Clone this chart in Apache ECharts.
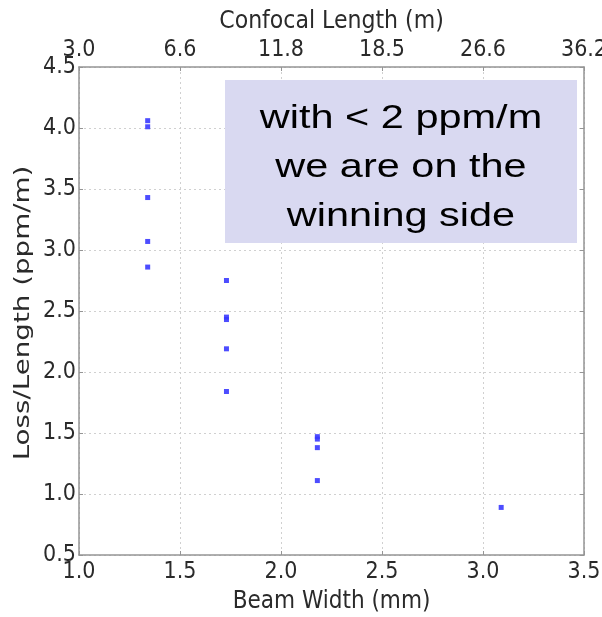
<!DOCTYPE html>
<html>
<head>
<meta charset="utf-8">
<script src="https://cdn.jsdelivr.net/npm/echarts@6/dist/echarts.min.js"></script>
<style>
  html, body { margin: 0; padding: 0; background: #fff; }
  #chart { width: 602px; height: 617px; }
</style>
</head>
<body>
<div id="chart"></div>
<script>
// Measured loss per unit length for several beam widths
const beamWidth = [1.34, 1.34, 1.34, 1.34, 1.34, 1.73, 1.73, 1.73, 1.73, 1.73, 2.18, 2.18, 2.18, 2.18, 3.09];
const lossPerLength = [4.06, 4.01, 3.43, 3.07, 2.86, 2.75, 2.45, 2.43, 2.19, 1.84, 1.47, 1.45, 1.38, 1.11, 0.89];

// Secondary (top) axis: confocal length at each beam-width tick
const beamTicks = [1.0, 1.5, 2.0, 2.5, 3.0, 3.5];
const confocalLabels = ['3.0', '6.6', '11.8', '18.5', '26.6', '36.2'];

const yTitle = 'Loss/Length (ppm/m)';
const annotationLines = ['with < 2 ppm/m', 'we are on the', 'winning side'];

const points = beamWidth.map((w, i) => [w, lossPerLength[i]]);

const axisFont = 'DejaVu Sans Condensed';
const textColor = '#2a2a2a';
const frameColor = '#959595';
const gridColor = '#d0d0d0';

function topLabel(v) {
  const idx = beamTicks.findIndex(t => Math.abs(t - v) < 1e-6);
  return idx >= 0 ? confocalLabels[idx] : '';
}

const chart = echarts.init(document.getElementById('chart'), null, { renderer: 'canvas' });

const frameLine = { show: true, onZero: false, lineStyle: { color: frameColor, width: 1.5 } };
const innerTicks = { show: true, inside: true, length: 4, lineStyle: { color: frameColor } };
const dotted = { show: true, lineStyle: { color: gridColor, type: [2, 3], width: 1 } };

chart.setOption({
  animation: false,
  backgroundColor: '#ffffff',
  grid: { left: 79, right: 18, top: 67, bottom: 62, containLabel: false, outerBoundsMode: 'none' },
  xAxis: [
    {
      type: 'value', position: 'bottom',
      min: 1.0, max: 3.5, interval: 0.5,
      name: 'Beam Width (mm)', nameLocation: 'middle', nameGap: 35,
      nameTextStyle: { fontFamily: axisFont, fontSize: 24, color: textColor },
      axisLine: frameLine,
      axisTick: innerTicks,
      axisLabel: {
        show: true, margin: 6, showMinLabel: true, showMaxLabel: true,
        fontFamily: axisFont, fontSize: 23, color: textColor,
        formatter: v => v.toFixed(1)
      },
      splitLine: dotted
    },
    {
      type: 'value', position: 'top',
      min: 1.0, max: 3.5, interval: 0.5,
      name: 'Confocal Length (m)', nameLocation: 'middle', nameGap: 33,
      nameTextStyle: { fontFamily: axisFont, fontSize: 24.5, color: textColor },
      axisLine: frameLine,
      axisTick: innerTicks,
      axisLabel: {
        show: true, margin: 5, showMinLabel: true, showMaxLabel: true,
        fontFamily: axisFont, fontSize: 23, color: textColor,
        formatter: topLabel
      },
      splitLine: { show: false }
    }
  ],
  yAxis: [
    {
      type: 'value', position: 'left',
      min: 0.5, max: 4.5, interval: 0.5,
      axisLine: frameLine,
      axisTick: innerTicks,
      axisLabel: {
        show: true, margin: 3, showMinLabel: true, showMaxLabel: true,
        fontFamily: axisFont, fontSize: 23, color: textColor,
        formatter: v => v.toFixed(1)
      },
      splitLine: dotted
    },
    {
      type: 'value', position: 'right',
      min: 0.5, max: 4.5, interval: 0.5,
      axisLine: frameLine,
      axisTick: innerTicks,
      axisLabel: { show: false },
      splitLine: { show: false }
    }
  ],
  series: [
    {
      type: 'scatter',
      xAxisIndex: 0, yAxisIndex: 0,
      data: points,
      symbol: 'rect',
      symbolSize: [5, 5],
      itemStyle: { color: '#3a3aff', opacity: 0.9 },
      z: 3
    }
  ],
  graphic: [
    {
      // vertical axis title, stretched along its reading direction
      type: 'group', x: 23, y: 313, rotation: Math.PI / 2, scaleX: 1.26,
      children: [
        {
          type: 'text',
          style: {
            text: yTitle, x: 0, y: 0,
            align: 'center', verticalAlign: 'middle',
            fontFamily: 'DejaVu Sans', fontSize: 22, fill: textColor
          }
        }
      ]
    },
    {
      type: 'rect', z: 100,
      shape: { x: 225, y: 80, width: 352, height: 163 },
      style: { fill: '#d9d9f1' }
    },
    {
      type: 'group', x: 401, y: 168, scaleX: 1.22, z: 101,
      children: [
        {
          type: 'text', z: 101,
          style: {
            text: annotationLines.join('\n'),
            x: 0, y: 0,
            align: 'center', verticalAlign: 'middle',
            fontFamily: 'Liberation Sans', fontSize: 34, lineHeight: 49,
            fill: '#000000'
          }
        }
      ]
    }
  ]
});
</script>
</body>
</html>
